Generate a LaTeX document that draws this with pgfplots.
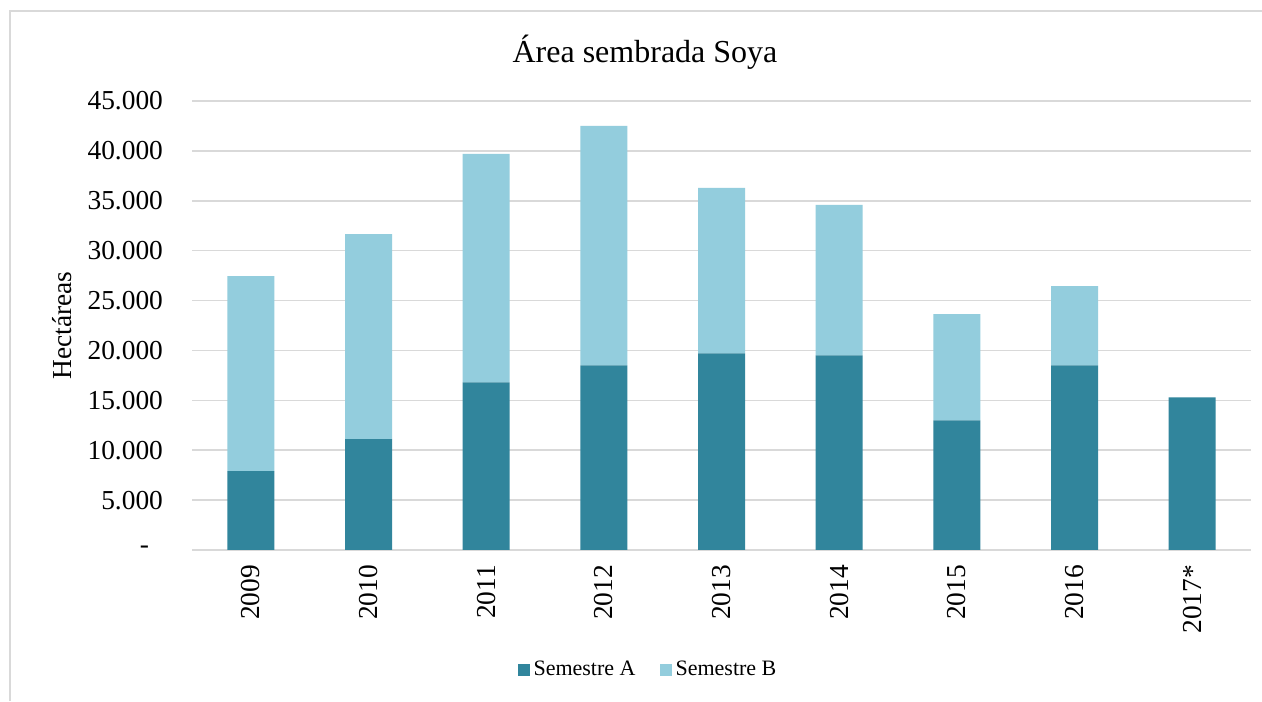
\documentclass[border=0pt]{standalone}
\usepackage{pgfplots}
\pgfplotsset{compat=1.18}
\usepackage{fontspec}
\setmainfont{Liberation Serif}
\definecolor{semA}{HTML}{31859C}
\definecolor{semB}{HTML}{93CDDD}
\definecolor{gridc}{HTML}{D9D9D9}
\newcommand\fs{\fontsize{13.7}{16}\selectfont}
\begin{document}
\begin{tikzpicture}
% page: 1262 x 701 px at 0.5pt per px
\path[fill=white,use as bounding box] (0,0) rectangle (631pt,350.5pt);
\draw[gridc,line width=0.75pt] (5pt,0) -- (5pt,345pt) -- (631pt,345pt);
\node[font=\fontsize{16}{18}\selectfont] at (322.5pt,324.5pt) {Área sembrada Soya};
\begin{axis}[
  at={(96pt,75.5pt)}, anchor=south west,
  scale only axis, width=529.5pt, height=224.5pt,
  ybar stacked, bar width=23.5pt,
  xmin=-0.5, xmax=8.5, ymin=0, ymax=45000,
  scaled y ticks=false,
  axis line style={draw=none},
  ymajorgrids, grid style={gridc,line width=0.75pt},
  major tick length=0,
  xtick={0,...,8},
  xticklabels={2009,2010,2011,2012,2013,2014,2015,2016,2017*},
  ytick={0,5000,...,45000},
  yticklabels={-\rule{7pt}{0pt},5.000,10.000,15.000,20.000,25.000,30.000,35.000,40.000,45.000},
  tick label style={font=\fs},
  xticklabel style={rotate=90,anchor=east,xshift=-4pt},
  yticklabel style={xshift=-11pt},
  ylabel={Hectáreas}, ylabel style={font=\fs,yshift=1pt},
  legend style={at={(0.4315,-0.267)},anchor=center,draw=none,
    font=\fontsize{11}{13}\selectfont,
    legend columns=2,/tikz/every even column/.append style={column sep=10pt}},
  legend image code/.code={\fill[#1] (0pt,-3pt) rectangle (6pt,3pt);},
]
\addplot[fill=semA,draw=none] coordinates {
 (0,7900) (1,11100) (2,16800) (3,18500) (4,19700) (5,19500) (6,13000) (7,18500) (8,15300)};
\addplot[fill=semB,draw=none] coordinates {
 (0,19550) (1,20550) (2,22900) (3,24000) (4,16600) (5,15100) (6,10650) (7,7950) (8,0)};
\legend{Semestre A,Semestre B}
\end{axis}
\end{tikzpicture}
\end{document}
